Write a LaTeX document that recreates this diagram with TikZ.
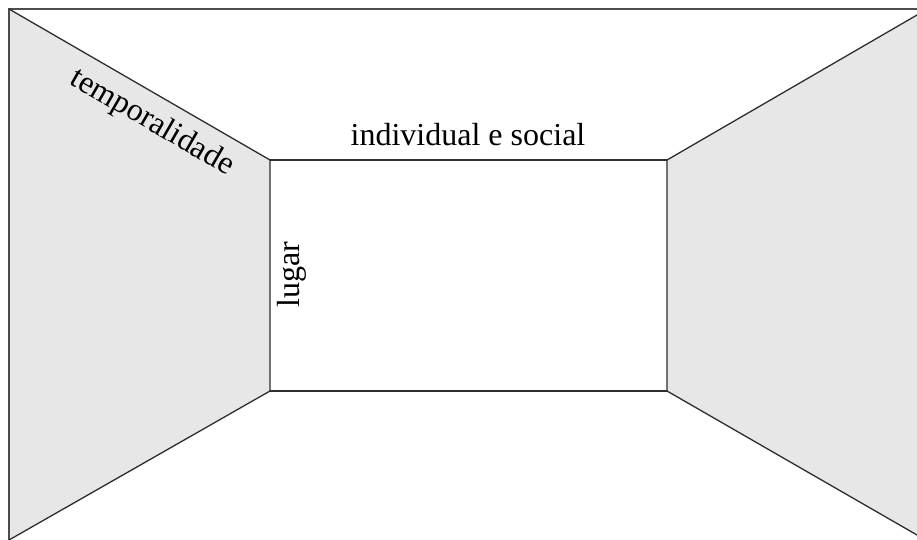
\documentclass[tikz,border=0pt]{standalone}
\usepackage{fontspec}
\setmainfont{Liberation Serif}
\usepackage{tikz}
\usetikzlibrary{positioning,calc}
\definecolor{wall}{RGB}{231,231,231}
\definecolor{edge}{RGB}{45,45,45}

\begin{document}
\begin{tikzpicture}[x=1pt, y=-1pt,
    walltext/.style={font=\fontsize{32}{38}\selectfont, inner sep=0pt},
    wallline/.style={edge, line width=1.3pt, line join=miter}]
    % Canvas
    \useasboundingbox (0,0) rectangle (917,540);
    \clip (0,0) rectangle (917,540);

    % Corners of the room
    \coordinate (outerTL) at (9,9);
    \coordinate (outerBL) at (9,540);
    \coordinate (backTL) at (270,160);
    \coordinate (backTR) at (667,160);
    \coordinate (backBR) at (667,391);
    \coordinate (backBL) at (270,391);
    \coordinate (farTR) at ($(backTR)!1.2!(917,15)$);
    \coordinate (farBR) at ($(backBR)!1.2!(917,535)$);

    % === Side walls ===
    \fill[wall] (outerTL) -- (backTL) -- (backBL) -- (outerBL) -- cycle;
    \fill[wall] (farTR) -- (backTR) -- (backBR) -- (farBR) -- cycle;

    % Frame
    \draw[wallline, edge!85] (960,9) -- (outerTL) -- (9,560);

    % Edges of the room
    \draw[wallline] (outerTL) -- (backTL) -- (backBL) -- (outerBL);
    \draw[wallline] (farTR) -- (backTR) -- (backBR) -- (farBR);
    \draw[wallline] (backTL) -- (backTR);
    \draw[wallline] (backBL) -- (backBR);

    % Labels
    \node[walltext, rotate=-30] (temporal) at (152,123) {temporalidade};
    \node[walltext, anchor=base] (social) at (468,146) {individual e social};
    \node[walltext, rotate=90] (lugar) at (292,275) {lugar};
\end{tikzpicture}
\end{document}
